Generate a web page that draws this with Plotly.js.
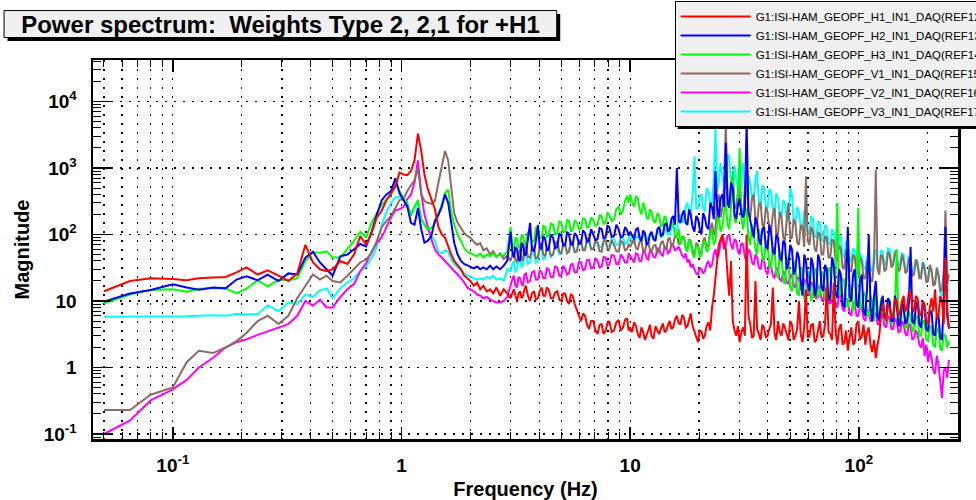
<!DOCTYPE html>
<html>
<head>
<meta charset="utf-8">
<script src="https://cdn.plot.ly/plotly-3.0.1.min.js"></script>
<style>html,body{margin:0;padding:0;background:#fff;}#chart{width:976px;height:500px;}</style>
</head>
<body>
<div id="chart"></div>
<script>
// Frequency axis (Hz)
const freq = [
0.05,0.065,0.08,0.1,0.115,0.13,0.15,0.17,0.19,0.21,0.235,0.26,0.29,0.32,0.35,0.38,0.41,0.44,0.47,0.5,0.54,0.58,0.62,0.66,0.7,0.74,0.78,0.82,0.86,0.9,0.94,0.98,
1.02,1.06,1.1,1.14,1.18,1.22,1.26,1.3,1.35,1.4,1.45,1.5,1.55,1.6,1.65,1.7,1.76,1.82,1.88,1.94,2.0,2.07,2.14,2.21,2.28,2.36,2.44,2.52,2.6,2.7,2.8,2.9,
3.0,3.05,3.1,3.15,3.2,3.25,3.3,3.35,3.4,3.45,3.5,3.57,3.65,3.72,3.8,3.87,3.95,4.02,4.1,4.17,4.25,4.32,4.4,4.5,4.6,4.7,4.8,4.9,5.0,5.1,5.2,5.3,5.4,5.5,5.6,5.72,5.85,5.97,6.1,6.22,6.35,6.47,6.6,6.75,6.9,7.05,7.2,7.35,7.5,7.65,7.8,7.95,8.1,8.3,8.5,8.7,8.9,9.1,9.3,9.5,9.7,9.85,
10,10.2,10.4,10.6,10.8,11,11.2,11.4,11.6,11.8,12,12.2,12.4,12.65,12.9,13.15,13.4,13.65,13.9,14.15,14.4,14.65,14.9,15.15,15.4,15.7,16,16.3,16.6,16.9,17.2,17.5,17.8,18.1,18.4,18.75,19.1,19.45,19.8,20.15,
20.5,20.85,21.2,21.6,22,22.4,22.8,23.2,23.6,24,24.4,24.85,25.3,25.75,26.2,26.65,27.1,27.6,28.1,28.6,29.1,29.6,30.1,30.65,31.2,31.75,32.3,32.9,33.5,34.1,34.7,35.3,35.9,36.55,37.2,37.85,38.5,39.2,39.9,40.6,
41.3,42.05,42.8,43.55,44.3,45.1,45.9,46.7,47.5,48.35,49.2,50.1,51,51.9,52.8,53.75,54.7,55.7,56.7,57.7,58.7,59.75,60.8,61.9,63,64.1,65.2,66.35,67.5,68.7,69.9,71.15,72.4,73.7,75,76.35,77.7,79.1,80.5,81.95,
83.4,84.9,86.4,87.95,89.5,91.1,92.7,94.35,96,97.7,99.4,101.2,103,104.85,106.7,108.6,110.5,112.5,114.5,116.55,118.6,120.7,122.8,125,127.2,129.45,131.7,134.05,136.4,138.85,141.3,143.85,146.4,149,151.6,154.3,157,159.8,162.6,165.5,
168.4,171.4,174.4,177.5,180.6,183.85,187.1,190.45,193.8,197.25,200.7,204.3,207.9,211.6,215.3,219.15,223,227,231,235.1,239.2,243.45,247.7
];

// G1:ISI-HAM_GEOPF_H1 (red)
const magH1 = [
14,20,22,21.5,20.5,22,22.5,23,27,32,25,29,24,20,26,70,38,30,28,30,40,36,50,95,70,105,180,230,330,420,520,850,
800,780,900,1300,3300,1800,800,500,330,240,130,100,90,65,50,40,34,30,24,22,20,17,19,15,17,14,15,13,16,12,15,13,
11,13, 15,12, 10,13, 14,11, 12,15, 17,12, 10,13, 14,10.5, 11,14, 16,12, 12,16, 15,11, 11,13.5, 14,10.5, 10,13, 13,10,
9,12.5, 12,9, 7,6, 5,6.5, 6,4.4, 3.8,5, 5,3.6, 3.2,4.4, 4.5,3.2, 3.5,4.6, 5,3.4, 3.6,4.8, 5.2,3.6, 4,5.2, 5.5,3.6,
4,3.4, 4.8,4.2, 3.2,2.8, 4,3.4, 2.6,3.0, 3.6,4.4, 3,2.7, 4.2,3.6, 3.2,3.9, 4.6,3.4,
3.6,4.4, 5,3.8, 4,5.2, 6,4.6, 4.5,6.2, 5.5,4.0, 4.2,5.2, 6.5,4.2, 3.5,2.8, 2.4,3.6,
3.5,2.7, 3,4.2, 4.8,3.6, 8,12, 20,40, 70,85, 100,75, 60,25, 12,40, 5,3.6,
3,4.2, 2.4,3.4, 4,3, 100,6, 4.5,2.8, 3,20, 3.8,3.2, 2.6,4.4, 4,2.8, 3,3.8,
4.5,16, 3.2,2.6, 5,3.4, 3,4.6, 4,3.2, 2.6,5, 4.4,2.6, 3,3.8, 10,3.2, 2.4,4.2,
15,2.8, 3,4.4, 4.5,2.4, 2.6,3.6, 5,2.8, 3,4.5, 17,3.4, 3.2,2.6, 19,3.5, 2.2,3.8,
4.5,2.2, 2.4,3.6, 1.8,2.8, 4,2.2, 2.4,4.5, 5,2.6, 3,4.4, 2.2,3.4, 4,2.2, 1.7,2.6,
1.4,2.2, 3,6, 9,6.5, 5,9, 8,5.5, 6,11, 10,6, 7,10, 12,7, 8,14,
13,8, 7,12, 11,6.5, 6,10, 9,5, 4.5,8, 11,7, 15,5.5, 6,12, 10,4.5,
45,8, 3.8
];

// G1:ISI-HAM_GEOPF_H2 (blue)
const magH2 = [
9.8,13,14.6,17.8,16,14.8,16,15.5,21,23.5,20.5,25,20,26,25,45,55,38,30,24,47,50,60,72,66,110,200,330,400,450,700,420,
330,265,150,140,250,120,75,80,95,160,200,260,400,300,150,75,50,40,36,34,33,31,33,30,32,30,34,30,33,30,34,40,
110,55, 45,65, 60,42, 40,75, 70,48, 50,90, 150,60, 55,80, 140,65, 60,95, 85,58, 60,100, 90,62, 65,105, 95,68, 70,110,
100,72, 70,105, 95,72, 75,115, 105,78, 80,120, 100,82, 85,125, 120,88, 90,135, 130,92, 95,140, 120,90, 95,130, 115,95,
110,95, 85,120, 125,90, 80,115, 105,70, 75,100, 110,85, 80,120, 130,95, 100,140,
150,110, 120,170, 190,140, 1000,160, 150,200, 230,150, 140,240, 200,130, 110,190, 170,120,
100,210, 180,130, 120,300, 260,170, 900,250, 180,350, 400,260, 2400,300, 250,600, 500,200,
170,280, 350,200, 180,250, 5000,220, 160,110, 90,180, 150,85, 70,120, 130,65, 60,140,
110,55, 50,100, 90,45, 40,80, 75,30, 35,70, 60,25, 30,55, 45,20, 12,50,
40,18, 14,45, 35,12, 15,50, 40,16, 14,35, 30,10, 12,45, 35,13, 11,30,
25,9, 8,20, 130,12, 10,25, 30,9, 8,20, 25,7, 6,15, 100,8, 5,12,
20,6, 5,9, 12,5.5, 6,11, 10,5, 5,12, 9,4.2, 4.5,10, 8,4.5, 5,9,
65,5, 4.5,8, 10,4.5, 4,9, 8,3.8, 3.5,7, 7,3.2, 3,6, 6,2.8, 2.6,9,
130,6, 4
];

// G1:ISI-HAM_GEOPF_H3 (green)
const magH3 = [
9.2,12.5,14.6,15,13.8,15.3,15.5,15.5,13,15.3,20.6,16.5,21,20.4,22,40,54,53,56,45,45,60,80,110,90,150,210,282,330,400,590,450,
350,300,190,260,330,170,140,120,125,150,190,280,420,470,220,140,100,80,62,55,52,50,47,52,45,50,47,52,46,50,48,55,
130,70, 60,90, 85,62, 65,100, 95,72, 70,110, 100,78, 80,125, 120,88, 90,135, 130,92, 95,145, 140,100, 105,160, 150,108, 110,165,
160,112, 115,160, 150,120, 125,175, 170,128, 130,180, 165,135, 140,195, 190,145, 150,210, 200,160, 170,240, 260,200, 230,320, 380,300,
400,300, 260,380, 350,240, 200,300, 250,180, 170,240, 220,160, 150,210, 190,130, 140,190,
170,110, 120,160, 140,100, 90,120, 70,95, 90,60, 55,85, 75,50, 45,70, 65,45,
50,75, 80,55, 60,100, 120,70, 80,150, 200,110, 130,220, 300,140, 120,250, 900,160,
150,300, 2000,180, 120,200, 250,90, 70,140, 110,60, 50,120, 90,45, 40,80, 70,35,
30,65, 60,25, 22,55, 50,20, 18,45, 40,16, 14,40, 35,13, 12,32, 30,11,
11,28, 25,10, 12,30, 30,11, 12,28, 25,10, 14,32, 30,11, 12,26, 300,12,
15,22, 20,9, 8,18, 15,7, 9,16, 250,8, 8,14, 12,6, 6,12, 10,5,
15,7, 6,11, 10,5, 5,9, 10,4.5, 5,8, 60,5, 5,7, 8,4, 4,7,
6,3.5, 3.5,5.5, 6,3, 3,5, 5,2.6, 2.5,4.2, 4,2.2, 2,3.6, 4,1.9, 1.8,3.2,
3,2, 2.5
];

// G1:ISI-HAM_GEOPF_V1 (brown)
const magV1 = [
0.23,0.23,0.39,0.5,1.2,1.78,1.65,2.0,2.5,3.3,5,6,4.5,6,11,17,25,21,24,20,19,24,30,38,42,53,80,130,160,190,250,330,
340,450,550,650,1000,400,320,300,290,320,600,1000,1800,1300,500,210,150,125,105,95,90,78,70,74,58,62,50,56,46,52,43,48,
40,50, 55,42, 38,52, 60,44, 40,58, 70,46, 45,65, 60,44, 45,68, 75,50, 48,62, 65,48, 50,70, 80,55, 52,72, 70,52,
55,78, 75,54, 55,82, 80,58, 58,85, 90,60, 60,80, 75,56, 55,78, 85,60, 60,82, 70,56, 55,80, 75,58, 60,72,
65,75, 85,62, 60,78, 80,58, 55,72, 75,60, 55,68, 70,52, 58,75, 80,62,
60,85, 90,65, 70,95, 100,72, 75,88, 90,65, 60,85, 80,58, 50,75, 70,52,
55,80, 90,65, 70,120, 150,100, 120,300, 400,180, 250,600, 4500,350, 300,500, 800,250,
250,450, 600,220, 200,500, 800,200, 180,350, 400,160, 150,280, 300,140, 130,260, 220,120,
110,200, 250,100, 100,220, 180,90, 80,160, 300,85, 90,170, 150,75, 70,140, 130,65,
750,80, 70,130, 110,60, 55,110, 100,50, 50,95, 90,45, 45,85, 80,40, 40,70,
60,32, 30,60, 55,28, 28,50, 45,25, 25,45, 40,22, 22,40, 35,20, 20,38,
950,30, 25,50, 45,28, 30,55, 50,32, 35,55, 45,28, 30,50, 40,26, 28,45,
38,24, 25,42, 35,22, 22,38, 30,19, 20,35, 28,17, 18,32, 25,14, 15,28,
230,18, 25
];

// G1:ISI-HAM_GEOPF_V2 (magenta)
const magV2 = [
0.1,0.16,0.32,0.47,0.65,1.0,1.4,2.0,2.4,2.65,3.1,3.5,4.0,4.5,6.0,10,8.5,10.5,8,8,11.5,15,18,28,37,55,75,90,130,180,230,240,
260,340,400,600,1300,420,200,130,85,60,50,45,40,35,32,28,25,22,19,16,15,14,12.5,12,11,11.5,10.5,10,9.5,9.5,10,11.5,
18,21, 24,17, 16,23, 22,18, 17,25, 26,19, 20,27, 28,21, 21,29, 27,22, 22,31, 30,23, 23,33, 32,24, 24,34, 30,25,
26,35, 36,27, 27,39, 38,29, 30,41, 42,31, 32,44, 40,32, 33,46, 45,34, 35,49, 48,36, 36,50, 45,38, 38,52,
48,42, 38,52, 50,40, 40,56, 55,44, 42,58, 55,46, 45,62, 60,50, 48,66,
65,52, 55,72, 70,58, 60,66, 55,48, 45,52, 38,42, 32,36, 30,26, 25,32,
30,26, 28,36, 40,32, 35,50, 60,45, 50,75, 90,60, 70,95, 100,70, 60,85,
80,55, 50,75, 70,45, 40,60, 55,38, 35,50, 45,32, 30,44, 40,28, 25,38,
35,24, 22,32, 30,21, 20,28, 26,19, 18,25, 24,17, 16,23, 22,15, 14,21,
20,13, 12,19, 18,11.5, 11,17, 16,10.5, 10,15.5, 15,9.5, 9,14, 13,8.5, 8,12.5,
12,7.5, 7,11, 10,6.5, 6,9.5, 9,6, 6,8.5, 8,5.5, 5,7.5, 7,5, 5,7,
6.5,4.5, 4.5,6.5, 6,4.2, 4,6, 5.5,3.8, 3.8,5.5, 5,3.4, 3.5,5, 4.5,3.2, 3,4.6,
4,2.6, 2.8,3.6, 3.2,2.2, 2,2.8, 1.5,2.2, 1.2,1.8, 1.4,0.9, 0.8,1.5, 1.1,0.6, 0.35,0.9,
1.0,0.7, 1.3
];

// G1:ISI-HAM_GEOPF_V3 (cyan)
const magV3 = [
5.8,5.8,5.8,5.9,5.9,6.0,6.1,6.0,6.4,6.3,6.3,8.6,7.0,9.5,9.0,12.5,11.5,14.5,15.5,11,15.5,19,22,28,33,44,65,140,220,300,360,370,
335,260,210,260,290,170,140,115,95,80,55,52,58,55,42,36,32,28,26,24,23.5,22,21,22,21,23,22,24,21,22,20,30,
28,36, 40,27, 30,42, 45,32, 35,50, 55,36, 38,52, 50,38, 40,58, 60,42, 45,62, 58,46, 50,66, 65,50, 52,70, 68,54,
55,72, 70,56, 58,75, 72,58, 60,78, 75,60, 62,80, 78,64, 65,82, 80,66, 68,86, 85,70, 70,92, 90,72, 75,88,
90,80, 75,92, 95,82, 80,98, 100,85, 85,102, 105,88, 90,108, 110,92, 95,115,
120,100, 100,130, 140,110, 120,170, 200,150, 160,260, 300,220, 200,400, 1500,250, 250,380,
400,250, 220,500, 450,300, 300,700, 4000,450, 600,1200, 800,500, 500,1600, 1500,600, 450,1100,
700,450, 400,900, 1200,400, 380,750, 600,350, 330,700, 900,300, 280,550, 500,260, 250,480,
450,230, 220,420, 350,190, 180,330, 300,170, 160,500, 400,150, 150,260, 220,130, 120,230,
200,110, 100,190, 170,95, 90,160, 150,85, 80,140, 130,75, 70,120, 110,65, 60,100,
90,50, 45,80, 70,42, 40,62, 55,36, 35,52, 45,32, 30,48, 40,30, 28,50,
60,32, 30,58, 55,36, 35,62, 60,38, 38,58, 55,34, 35,52, 50,30, 32,48,
45,28, 28,42, 40,25, 25,38, 35,22, 22,33, 30,18, 18,28, 25,14, 12,22,
20,14, 15
];

const seriesNames = [
  'G1:ISI-HAM_GEOPF_H1_IN1_DAQ(REF12)',
  'G1:ISI-HAM_GEOPF_H2_IN1_DAQ(REF13)',
  'G1:ISI-HAM_GEOPF_H3_IN1_DAQ(REF14)',
  'G1:ISI-HAM_GEOPF_V1_IN1_DAQ(REF15)',
  'G1:ISI-HAM_GEOPF_V2_IN1_DAQ(REF16)',
  'G1:ISI-HAM_GEOPF_V3_IN1_DAQ(REF17)'
];
const seriesColors = ['#ff0000', '#0000ff', '#00ff00', '#8c6c60', '#ff00ff', '#00ffff'];
const seriesValues = [magH1, magH2, magH3, magV1, magV2, magV3];

const xTickVals = [0.1, 1, 10, 100];
const xTickText = ['10<sup>-1</sup>', '1', '10', '10<sup>2</sup>'];
const yTickVals = [0.1, 1, 10, 100, 1000, 10000];
const yTickText = ['10<sup>-1</sup>', '1', '10', '10<sup>2</sup>', '10<sup>3</sup>', '10<sup>4</sup>'];

// Draw order: cyan first ... red last (on top); legend reversed to list red first
const traces = [];
for (let i = seriesValues.length - 1; i >= 0; i--) {
  traces.push({
    type: 'scatter', mode: 'lines',
    x: freq, y: seriesValues[i],
    name: seriesNames[i],
    line: {color: seriesColors[i], width: 2},
    hoverinfo: 'skip'
  });
}

const minorX = [];
for (let e = -2; e <= 2; e++) for (let m = 2; m <= 9; m++) minorX.push(m * Math.pow(10, e));
const minorY = [];
for (let e = -2; e <= 4; e++) for (let m = 2; m <= 9; m++) minorY.push(m * Math.pow(10, e));

const FONT = 'Liberation Sans, Arial, Helvetica, sans-serif';
const L = 93, R = 958.5, T = 60, B = 439.5;
const W = R - L, H = B - T;
const px = v => (v - L) / W;
const py = v => (B - v) / H;

const layout = {
  width: 976, height: 500,
  margin: {l: L, r: 976 - R, t: T, b: 500 - B, autoexpand: false},
  paper_bgcolor: '#ffffff', plot_bgcolor: '#ffffff',
  showlegend: true,
  title: {
    text: 'Power spectrum:\u00a0 Weights Type 2, 2,1 for +H1',
    x: 280.5 / 976, xref: 'container', xanchor: 'center',
    y: 1 - 24.5 / 500, yref: 'container', yanchor: 'middle',
    font: {family: FONT, size: 24, weight: 'bold', color: '#000'},
    automargin: false
  },
  xaxis: {
    type: 'log', range: [-1.349, 2.4336], autorange: false,
    tickmode: 'array', tickvals: xTickVals, ticktext: xTickText,
    ticks: 'inside', ticklen: 12, tickwidth: 1.5, tickcolor: '#000',
    showline: true, linewidth: 2.5, linecolor: '#000', mirror: 'allticks',
    showgrid: true, gridcolor: '#000', gridwidth: 1.3, griddash: '2px,7px',
    zeroline: false,
    minor: {tickmode: 'array', tickvals: minorX, ticks: 'inside', ticklen: 7, tickwidth: 1, tickcolor: '#000',
            showgrid: true, gridcolor: '#000', gridwidth: 1.3, griddash: '2px,7px'},
    tickfont: {family: FONT, size: 19, weight: 'bold', color: '#000'},
    ticklabelstandoff: 8,
    title: {text: 'Frequency (Hz)', font: {family: FONT, size: 20, weight: 'bold', color: '#000'}, standoff: 12}
  },
  yaxis: {
    type: 'log', range: [-1.075, 4.624], autorange: false,
    tickmode: 'array', tickvals: yTickVals, ticktext: yTickText,
    ticks: 'inside', ticklen: 18, tickwidth: 1.5, tickcolor: '#000',
    showline: true, linewidth: 2.5, linecolor: '#000', mirror: 'allticks',
    showgrid: true, gridcolor: '#000', gridwidth: 1.3, griddash: '2px,7px',
    zeroline: false,
    minor: {tickmode: 'array', tickvals: minorY, ticks: 'inside', ticklen: 8, tickwidth: 1, tickcolor: '#000', showgrid: false},
    tickfont: {family: FONT, size: 19, weight: 'bold', color: '#000'},
    ticklabelstandoff: 10,
    title: {text: 'Magnitude', font: {family: FONT, size: 20, weight: 'bold', color: '#000'}, standoff: 9}
  },
  legend: {
    x: px(675), xanchor: 'left', y: py(1), yanchor: 'top',
    bgcolor: '#f0f0f0', bordercolor: '#000', borderwidth: 1,
    font: {family: FONT, size: 11.5, color: '#000'},
    traceorder: 'reversed', itemwidth: 70, tracegroupgap: 0
  },
  shapes: [
    {type: 'rect', xref: 'paper', yref: 'paper', layer: 'below',
     x0: px(7.5), x1: px(560.5), y0: py(41), y1: py(14), fillcolor: '#000', line: {width: 0}},
    {type: 'rect', xref: 'paper', yref: 'paper', layer: 'below',
     x0: px(4), x1: px(557), y0: py(37.5), y1: py(10.5), fillcolor: '#f0f0f0', line: {color: '#000', width: 1}},
    {type: 'rect', xref: 'paper', yref: 'paper', layer: 'above',
     x0: px(678), x1: px(1000), y0: py(129), y1: py(4), fillcolor: '#000', line: {width: 0}}
  ]
};

Plotly.newPlot('chart', traces, layout, {staticPlot: true, displayModeBar: false});
</script>
</body>
</html>
